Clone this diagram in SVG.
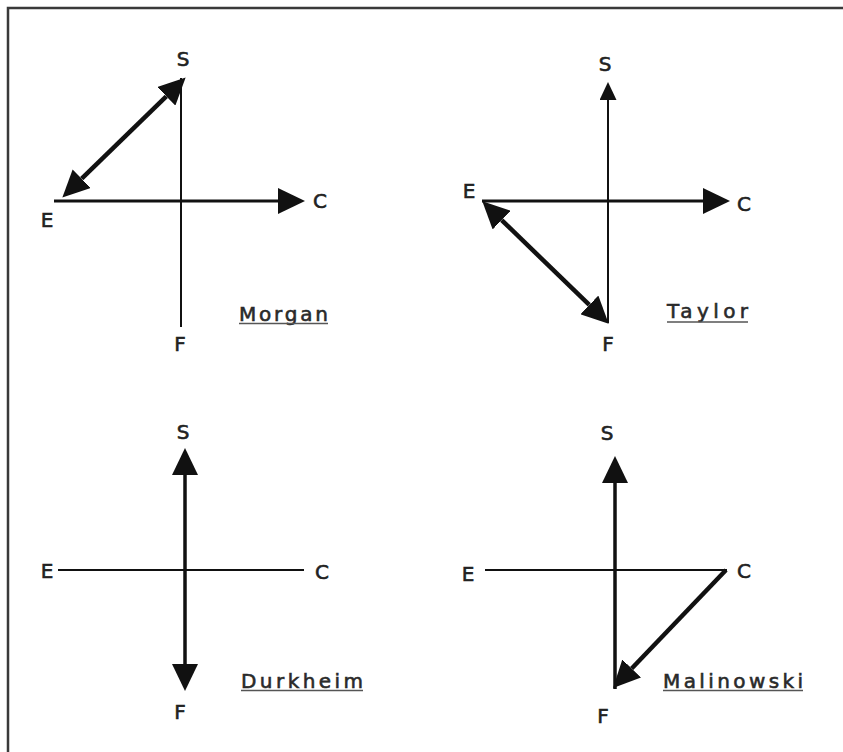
<svg xmlns="http://www.w3.org/2000/svg" width="843" height="752" viewBox="0 0 843 752">
  <style>
    .frame { fill: none; stroke: #3a3a3a; stroke-width: 2.5; }
    .ax { stroke: #111; fill: none; }
    .thin { stroke-width: 2; }
    .mid { stroke-width: 3; }
    .thick { stroke-width: 3.5; }
    .diag { stroke-width: 4.5; }
    .lbl { font-family: "DejaVu Sans", "Liberation Sans", sans-serif; font-size: 20px; fill: #222; stroke: #222; stroke-width: 0.6; text-anchor: middle; }
    .name { font-family: "DejaVu Sans", "Liberation Sans", sans-serif; font-size: 20px; fill: #2a2a2a; stroke: #2a2a2a; stroke-width: 0.6; }
    .ul { stroke: #555; stroke-width: 1.5; }
  </style>
  <defs>
    <marker id="big" viewBox="0 -13 27 26" refX="0" refY="0" markerWidth="27" markerHeight="26" markerUnits="userSpaceOnUse" orient="auto-start-reverse">
      <path d="M0,-13 L27,0 L0,13 Z" fill="#111"/>
    </marker>
    <marker id="small" viewBox="0 -8.5 18 17" refX="0" refY="0" markerWidth="18" markerHeight="17" markerUnits="userSpaceOnUse" orient="auto-start-reverse">
      <path d="M0,-8.5 L18,0 L0,8.5 Z" fill="#111"/>
    </marker>
  </defs>

  <path class="frame" d="M8,752 V8 H843"/>

  <!-- Morgan -->
  <g id="morgan">
    <g id="morgan-connectors">
      <line class="ax thin" x1="181" y1="78" x2="181" y2="327"/>
      <line class="ax mid" x1="54" y1="201" x2="278" y2="201" marker-end="url(#big)"/>
      <line class="ax diag" x1="81.7" y1="178.7" x2="166.3" y2="96.3" marker-start="url(#big)" marker-end="url(#big)"/>
    </g>
    <g id="morgan-S"><text class="lbl" x="183" y="66">S</text></g>
    <g id="morgan-C"><text class="lbl" x="320" y="208">C</text></g>
    <g id="morgan-E"><text class="lbl" x="47" y="227">E</text></g>
    <g id="morgan-F"><text class="lbl" x="180" y="351">F</text></g>
    <g id="morgan-title">
      <text class="name" x="239" y="321" textLength="89" lengthAdjust="spacing">Morgan</text>
      <line class="ul" x1="239" y1="323.5" x2="328" y2="323.5"/>
    </g>
  </g>

  <!-- Taylor -->
  <g id="taylor">
    <g id="taylor-connectors">
      <line class="ax thin" x1="608" y1="100" x2="608" y2="323" marker-start="url(#small)"/>
      <line class="ax mid" x1="482" y1="201" x2="703" y2="201" marker-end="url(#big)"/>
      <line class="ax diag" x1="501.7" y1="220.1" x2="589.3" y2="304.9" marker-start="url(#big)" marker-end="url(#big)"/>
    </g>
    <g id="taylor-S"><text class="lbl" x="605" y="71">S</text></g>
    <g id="taylor-E"><text class="lbl" x="469" y="198">E</text></g>
    <g id="taylor-C"><text class="lbl" x="744" y="211">C</text></g>
    <g id="taylor-F"><text class="lbl" x="608" y="351">F</text></g>
    <g id="taylor-title">
      <text class="name" x="667" y="318" textLength="81" lengthAdjust="spacing">Taylor</text>
      <line class="ul" x1="667" y1="322" x2="748" y2="322"/>
    </g>
  </g>

  <!-- Durkheim -->
  <g id="durkheim">
    <g id="durkheim-connectors">
      <line class="ax thin" x1="58" y1="570" x2="304" y2="570"/>
      <line class="ax thick" x1="185" y1="475" x2="185" y2="664" marker-start="url(#big)" marker-end="url(#big)"/>
    </g>
    <g id="durkheim-S"><text class="lbl" x="183" y="439">S</text></g>
    <g id="durkheim-E"><text class="lbl" x="47" y="578">E</text></g>
    <g id="durkheim-C"><text class="lbl" x="322" y="579">C</text></g>
    <g id="durkheim-F"><text class="lbl" x="180" y="719">F</text></g>
    <g id="durkheim-title">
      <text class="name" x="241" y="688" textLength="122" lengthAdjust="spacing">Durkheim</text>
      <line class="ul" x1="241" y1="690.5" x2="363" y2="690.5"/>
    </g>
  </g>

  <!-- Malinowski -->
  <g id="malinowski">
    <g id="malinowski-connectors">
      <line class="ax thin" x1="485" y1="570" x2="727" y2="570"/>
      <line class="ax thick" x1="615" y1="483" x2="615" y2="689" marker-start="url(#big)"/>
      <line class="ax diag" x1="726" y1="570" x2="631.7" y2="668.5" marker-end="url(#big)"/>
    </g>
    <g id="malinowski-S"><text class="lbl" x="607" y="440">S</text></g>
    <g id="malinowski-E"><text class="lbl" x="468" y="581">E</text></g>
    <g id="malinowski-C"><text class="lbl" x="744" y="578">C</text></g>
    <g id="malinowski-F"><text class="lbl" x="603" y="723">F</text></g>
    <g id="malinowski-title">
      <text class="name" x="663" y="688" textLength="140" lengthAdjust="spacing">Malinowski</text>
      <line class="ul" x1="663" y1="690.5" x2="803" y2="690.5"/>
    </g>
  </g>
</svg>
